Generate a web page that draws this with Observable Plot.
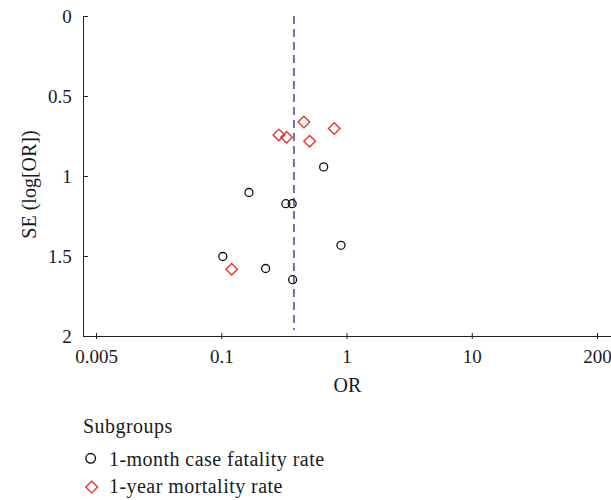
<!DOCTYPE html>
<html><head><meta charset="utf-8">
<script src="https://cdn.jsdelivr.net/npm/d3@7"></script>
<script src="https://cdn.jsdelivr.net/npm/@observablehq/plot@0.6"></script>
<style>
body{margin:0;background:#fff;}
#chart{width:611px;height:500px;position:relative;font-family:"Liberation Serif",serif;color:#1a1a1a;}
#chart svg{display:block;}
</style></head><body><div id="chart"></div>
<script>
// 1-month case fatality rate (circles)
const monthOR = [0.651, 0.165, 0.325, 0.365, 0.895, 0.102, 0.224, 0.368];
const monthSE = [0.94, 1.10, 1.17, 1.17, 1.43, 1.50, 1.575, 1.645];
// 1-year mortality rate (diamonds)
const yearOR = [0.453, 0.791, 0.286, 0.329, 0.503, 0.120];
const yearSE = [0.66, 0.70, 0.74, 0.755, 0.78, 1.58];
const pooledOR = [0.377];
const xTicks = [0.005, 0.1, 1, 10, 200];
const yTicks = [0, 0.5, 1, 1.5, 2];
const xLabel = "OR";
const yLabel = "SE (log[OR])";
const legendTitle = "Subgroups";
const seriesNames = ["1-month case fatality rate", "1-year mortality rate"];
const seriesColors = ["#111111", "#e8332f"];

const month = monthOR.map((or, i) => ({or, se: monthSE[i]}));
const year = yearOR.map((or, i) => ({or, se: yearSE[i]}));

const plot = Plot.plot({
  width: 611, height: 400,
  marginTop: 16, marginBottom: 64, marginLeft: 83, marginRight: 0,
  style: {fontFamily: "'Liberation Serif', serif", fontSize: "20px", color: "#1a1a1a", background: "white", overflow: "visible"},
  x: {type: "log", domain: xTicks, range: [96, 221.25, 346.5, 471.75, 597]},
  y: {domain: [0, 2], reverse: true},
  marks: [
    Plot.frame({anchor: "left", stroke: "#222"}),
    Plot.frame({anchor: "bottom", stroke: "#222"}),
    Plot.axisX({ticks: xTicks, tickSize: 6, insetBottom: 3, fill: "none", stroke: "#222", label: null}),
    Plot.text(xTicks, {x: d => d, frameAnchor: "bottom", lineAnchor: "top", textAnchor: "middle", dy: 13.3, fontSize: 19, text: d => String(d)}),
    Plot.axisY({ticks: yTicks, tickSize: 5, insetLeft: 5, fill: "none", stroke: "#222", label: null}),
    Plot.axisY({ticks: yTicks, tickSize: 0, tickPadding: 11.7, stroke: "none", fontSize: 19, tickFormat: d => String(d), label: null}),
    Plot.ruleX(pooledOR, {stroke: "#6f6fb8", strokeWidth: 2, strokeDasharray: "8,5", insetBottom: 6}),
    Plot.dot(month, {x: "or", y: "se", r: 4, fill: "none", stroke: seriesColors[0], strokeWidth: 1.3, symbol: "circle"}),
    Plot.dot(year, {x: "or", y: "se", r: 5.2, fill: "none", stroke: seriesColors[1], strokeWidth: 1.4, symbol: "diamond2"}),
    Plot.text([xLabel], {frameAnchor: "bottom", lineAnchor: "middle", textAnchor: "middle", dy: 49, text: d => d}),
    Plot.text([yLabel], {frameAnchor: "left", lineAnchor: "middle", textAnchor: "middle", rotate: -90, dx: -54, dy: 8, text: d => d})
  ]
});
document.getElementById("chart").appendChild(plot);

// Legend below the plot
const leg = d3.select("#chart").append("svg")
  .attr("width", 611).attr("height", 100)
  .style("font-family", "'Liberation Serif', serif").style("font-size", "20px")
  .style("letter-spacing", "0.45px");
leg.append("text").attr("x", 83).attr("y", 33).attr("fill", "#1a1a1a").text(legendTitle);
const symbols = [d3.symbolCircle, d3.symbolDiamond2];
const rows = [{cx: 90.7, cy: 58.3, ty: 66, r: 4.8}, {cx: 91.7, cy: 87, ty: 92.7, r: 5.3}];
seriesNames.forEach((name, i) => {
  const row = rows[i];
  leg.append("path")
    .attr("d", d3.symbol(symbols[i], Math.PI * row.r * row.r)())
    .attr("transform", `translate(${row.cx},${row.cy})`)
    .attr("fill", "none").attr("stroke", seriesColors[i]).attr("stroke-width", 1.4);
  leg.append("text").attr("x", 109).attr("y", row.ty).attr("fill", "#1a1a1a").text(name);
});
</script></body></html>
